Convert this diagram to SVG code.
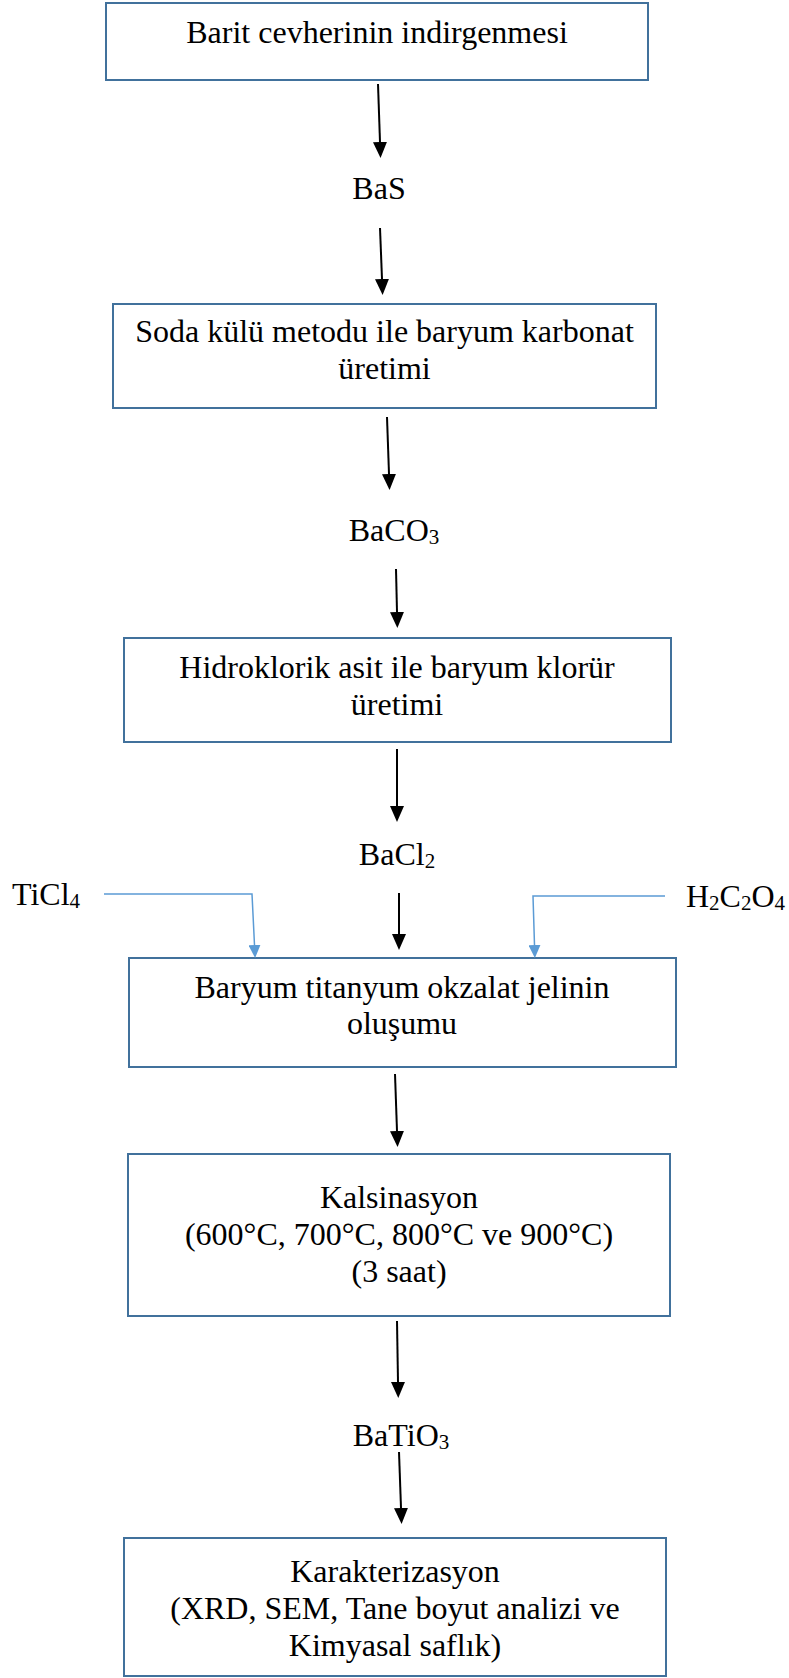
<svg xmlns="http://www.w3.org/2000/svg" width="789" height="1678" viewBox="0 0 789 1678">
  <style>
    .box { fill: #ffffff; stroke: #41719C; stroke-width: 2; }
    .t { font-family: "Liberation Serif", "Times New Roman", serif; font-size: 32px; fill: #000000; text-anchor: middle; }
    .side { font-family: "Liberation Serif", "Times New Roman", serif; font-size: 32px; fill: #000000; }
    .sub { font-size: 21px; }
    .flow { fill: none; stroke: #000000; stroke-width: 2; marker-end: url(#headBlack); }
    .feed { fill: none; stroke: #5B9BD5; stroke-width: 1.5; marker-end: url(#headBlue); }
  </style>
  <defs>
    <marker id="headBlack" viewBox="0 0 16 14" refX="0" refY="7" markerWidth="16" markerHeight="14" markerUnits="userSpaceOnUse" orient="auto">
      <path d="M0,0 L16,7 L0,14 Z" fill="#000000"/>
    </marker>
    <marker id="headBlue" viewBox="0 0 13 12" refX="0" refY="6" markerWidth="13" markerHeight="12" markerUnits="userSpaceOnUse" orient="auto">
      <path d="M0,0 L13,6 L0,12 Z" fill="#5B9BD5"/>
    </marker>
  </defs>

  <rect width="789" height="1678" fill="#ffffff"/>

  <!-- process steps -->
  <g id="step-reduction">
    <rect class="box" x="106" y="3" width="542" height="77"/>
    <text class="t" x="377" y="43">Barit cevherinin indirgenmesi</text>
  </g>

  <g id="step-carbonate">
    <rect class="box" x="113" y="304" width="543" height="104"/>
    <text class="t" x="384.5" y="342">Soda külü metodu ile baryum karbonat</text>
    <text class="t" x="384.5" y="379">üretimi</text>
  </g>

  <g id="step-chloride">
    <rect class="box" x="124" y="638" width="547" height="104"/>
    <text class="t" x="397" y="678">Hidroklorik asit ile baryum klorür</text>
    <text class="t" x="397" y="715">üretimi</text>
  </g>

  <g id="step-oxalate-gel">
    <rect class="box" x="129" y="958" width="547" height="109"/>
    <text class="t" x="402" y="998">Baryum titanyum okzalat jelinin</text>
    <text class="t" x="402" y="1034">oluşumu</text>
  </g>

  <g id="step-calcination">
    <rect class="box" x="128" y="1154" width="542" height="162"/>
    <text class="t" x="399" y="1208">Kalsinasyon</text>
    <text class="t" x="399" y="1245">(600°C, 700°C, 800°C ve 900°C)</text>
    <text class="t" x="399" y="1282">(3 saat)</text>
  </g>

  <g id="step-characterization">
    <rect class="box" x="124" y="1538" width="542" height="138"/>
    <text class="t" x="395" y="1582">Karakterizasyon</text>
    <text class="t" x="395" y="1619">(XRD, SEM, Tane boyut analizi ve</text>
    <text class="t" x="395" y="1656">Kimyasal saflık)</text>
  </g>

  <!-- intermediate products -->
  <g id="product-bas">
    <text class="t" x="379" y="199">BaS</text>
  </g>
  <g id="product-baco3">
    <text class="t" x="394" y="541">BaCO<tspan class="sub" dy="3">3</tspan></text>
  </g>
  <g id="product-bacl2">
    <text class="t" x="397" y="865">BaCl<tspan class="sub" dy="3">2</tspan></text>
  </g>
  <g id="product-batio3">
    <text class="t" x="401" y="1446">BaTiO<tspan class="sub" dy="3">3</tspan></text>
  </g>

  <!-- reagents -->
  <g id="reagent-ticl4">
    <text class="side" x="12" y="905">TiCl<tspan class="sub" dy="3">4</tspan></text>
  </g>
  <g id="reagent-oxalic">
    <text class="side" x="686" y="907">H<tspan class="sub" dy="3">2</tspan><tspan dy="-3">C</tspan><tspan class="sub" dy="3">2</tspan><tspan dy="-3">O</tspan><tspan class="sub" dy="3">4</tspan></text>
  </g>

  <!-- connectors -->
  <g id="connectors">
    <line class="flow" x1="378" y1="84" x2="380" y2="142"/>
    <line class="flow" x1="380" y1="228" x2="382" y2="279"/>
    <line class="flow" x1="387" y1="417" x2="389" y2="474"/>
    <line class="flow" x1="396" y1="569" x2="397" y2="612"/>
    <line class="flow" x1="397" y1="749" x2="397" y2="806"/>
    <line class="flow" x1="399" y1="893" x2="399" y2="934"/>
    <line class="flow" x1="395" y1="1074" x2="397" y2="1131"/>
    <line class="flow" x1="397" y1="1321" x2="398" y2="1382"/>
    <line class="flow" x1="399" y1="1452" x2="401" y2="1508"/>
    <path class="feed" d="M104,894 H252 L254.5,945"/>
    <path class="feed" d="M665,896 H533 L534.5,945"/>
  </g>
</svg>
